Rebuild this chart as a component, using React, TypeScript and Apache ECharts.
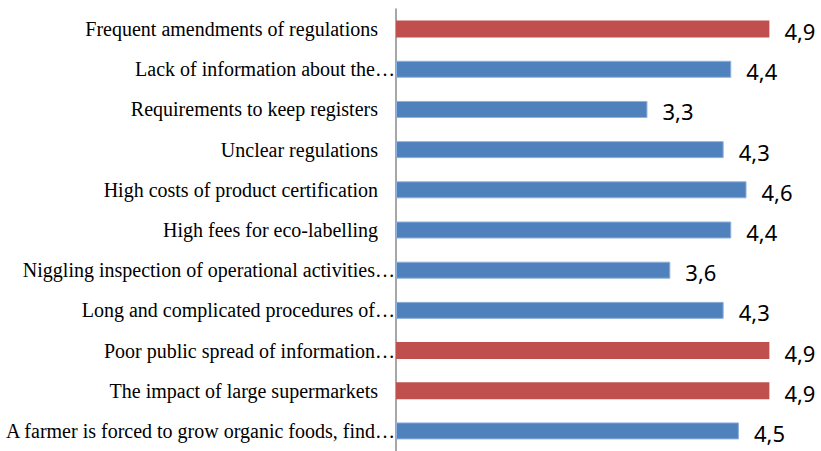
import React, { useEffect, useRef } from "react";
import * as echarts from "echarts";

const categories = [
  "Frequent amendments of regulations",
  "Lack of information about the…",
  "Requirements to keep registers",
  "Unclear regulations",
  "High costs of product certification",
  "High fees for eco-labelling",
  "Niggling inspection of operational activities…",
  "Long and complicated procedures of…",
  "Poor public spread of information…",
  "The impact of large supermarkets",
  "A farmer is forced to grow organic foods, find…",
];
const values = [4.9, 4.4, 3.3, 4.3, 4.6, 4.4, 3.6, 4.3, 4.9, 4.9, 4.5];
const highlighted = [true, false, false, false, false, false, false, false, true, true, false];

const RED = "#C0504D";
const BLUE = "#4F81BD";

export default function App() {
  const ref = useRef<HTMLDivElement>(null);
  useEffect(() => {
    if (!ref.current) return;
    const chart = echarts.init(ref.current, null, { renderer: "svg" });
    chart.setOption({
      animation: false,
      backgroundColor: "#ffffff",
      grid: { left: 396, right: 44, top: 9, height: 445.5, containLabel: false },
      xAxis: {
        type: "value",
        min: 0,
        max: 5,
        show: false,
        splitLine: { show: false },
      },
      yAxis: {
        type: "category",
        inverse: true,
        data: categories,
        axisLine: { show: true, lineStyle: { color: "#8a8a8a", width: 1.5 } },
        axisTick: { show: false },
        axisLabel: {
          margin: 1,
          formatter: (v: string) => (v.endsWith("…") ? `{t|${v}}` : `{p|${v}}`),
          rich: {
            t: { fontFamily: "Liberation Serif", fontSize: 20, color: "#000" },
            p: { fontFamily: "Liberation Serif", fontSize: 20, color: "#000", padding: [0, 17, 0, 0] },
          },
        },
      },
      series: [
        {
          type: "bar",
          barWidth: 17,
          data: values.map((v, i) => ({
            value: v,
            itemStyle: highlighted[i]
              ? { color: RED }
              : { color: BLUE, borderColor: "#8fb0da", borderWidth: 1 },
          })),
          label: {
            show: true,
            position: "right",
            distance: 15,
            fontFamily: "Noto Sans",
            fontSize: 22,
            color: "#000",
            offset: [0, 2],
            formatter: (p: any) => String(p.value).replace(".", ","),
          },
        },
      ],
    });
    return () => chart.dispose();
  }, []);
  return (
    <div
      ref={ref}
      style={{ position: "fixed", left: 0, top: 0, width: 821, height: 451 }}
    />
  );
}
